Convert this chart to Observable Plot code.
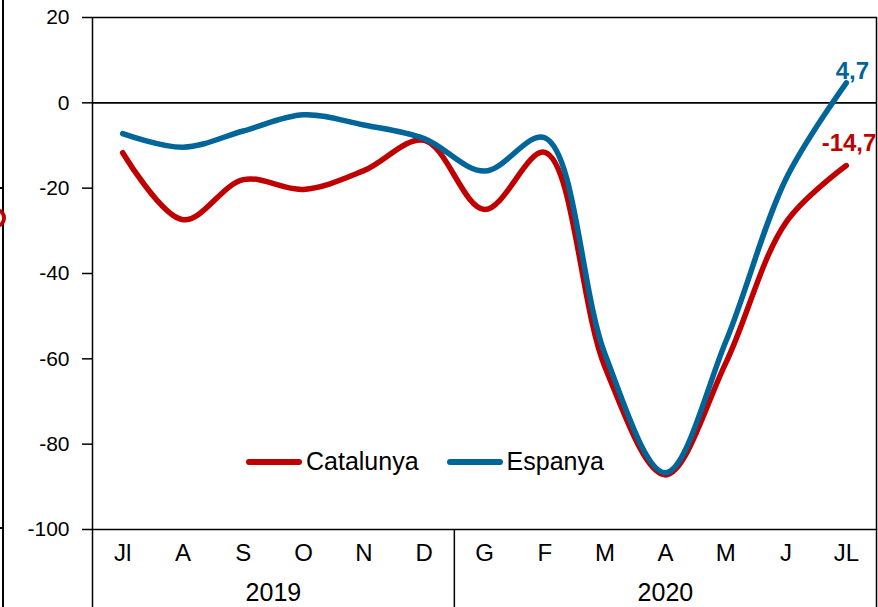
<!DOCTYPE html>
<html>
<head>
<meta charset="utf-8">
<script src="https://cdn.jsdelivr.net/npm/d3@7"></script>
<script src="https://cdn.jsdelivr.net/npm/@observablehq/plot@0.6"></script>
<style>
  html, body { margin: 0; padding: 0; background: #fff; }
  #wrap { position: relative; width: 878px; height: 607px; overflow: hidden; font-family: "Liberation Sans", Arial, sans-serif; }
  #legend { position: absolute; left: 246px; top: 447px; display: flex; align-items: center; font-size: 25px; color: #000; }
  .sw { display: inline-block; width: 56px; height: 6px; border-radius: 3px; margin-right: 4px; }
  .item { display: flex; align-items: center; margin-right: 28px; }
  #edge { position: absolute; left: 2px; top: 0; width: 1.5px; height: 607px; background: #000; }
  .etick { position: absolute; left: 0; width: 3px; height: 1.5px; background: #000; }
  #edot { position: absolute; left: -8px; top: 209px; width: 14px; height: 18px; border-radius: 50%; border: 4px solid #C00000; box-sizing: border-box; clip-path: inset(0 0 0 8px); }
</style>
</head>
<body>
<div id="wrap">
  <div id="chart"></div>
  <div id="edge"></div>
  <div class="etick" style="top:187px"></div>
  <div class="etick" style="top:527px"></div>
  <div id="edot"></div>
  <div id="legend">
    <span class="item"><span class="sw" style="background:#C00000"></span>Catalunya</span>
    <span class="item"><span class="sw" style="background:#006699"></span>Espanya</span>
  </div>
</div>
<script>
const months = ["Jl", "A", "S", "O", "N", "D", "G", "F", "M", "A", "M", "J", "JL"];
const years = ["2019", "2020"];
const catalunya = [-11.7, -27.4, -18, -20.3, -15.9, -8.8, -25, -11.6, -62, -87.2, -61, -28, -14.7];
const espanya = [-7.2, -10.4, -6.6, -2.8, -5.2, -8.4, -16, -8.2, -59, -86.7, -56, -17.8, 4.7];
const yTicks = [20, 0, -20, -40, -60, -80, -100];
const seriesNames = ["Catalunya", "Espanya"];
const seriesColors = ["#C00000", "#006699"];
const endLabels = ["-14,7", "4,7"];

const rows = [];
months.forEach((m, i) => {
  rows.push({i, v: catalunya[i], s: "Catalunya"});
  rows.push({i, v: espanya[i], s: "Espanya"});
});
const monthRows = months.map((m, i) => ({i, m}));
// year groups: 2019 -> indices 0..5, 2020 -> indices 6..12
const yearRows = [
  {x: (0 + 5) / 2, t: years[0]},
  {x: (6 + 12) / 2, t: years[1]}
];
const n = months.length;
const dividers = [-0.5, 5.5, n - 0.5];
const last = n - 1;
const endRows = [
  {i: last, v: catalunya[last], t: endLabels[0], s: "Catalunya"},
  {i: last, v: espanya[last], t: endLabels[1], s: "Espanya"}
];

const chart = Plot.plot({
  width: 878,
  height: 607,
  marginLeft: 92,
  marginRight: 2,
  marginTop: 17,
  marginBottom: 78,
  style: {fontFamily: "'Liberation Sans', Arial, sans-serif", background: "#fff", color: "#000", overflow: "visible"},
  x: {domain: [-0.5, n - 0.5], axis: null},
  y: {domain: [-100, 20], axis: null},
  color: {domain: seriesNames, range: seriesColors},
  marks: [
    Plot.ruleY([0], {stroke: "#000", strokeWidth: 1.6}),
    Plot.frame({stroke: "#000", strokeWidth: 1.5}),
    Plot.axisY({ticks: yTicks, tickSize: 10, tickPadding: 13, fontSize: 21, label: null, tickFormat: d => String(d), strokeWidth: 1.5}),
    Plot.ruleX(dividers, {y1: -100, y2: -125, stroke: "#000", strokeWidth: 1.5}),
    Plot.text(monthRows, {x: "i", y: -100, text: "m", dy: 24, fontSize: 24, fill: "#000"}),
    Plot.text(yearRows, {x: "x", y: -100, text: "t", dy: 63, fontSize: 25, fill: "#000"}),
    Plot.line(rows, {x: "i", y: "v", z: "s", stroke: "s", strokeWidth: 5.5, curve: "catmull-rom", strokeLinecap: "round", strokeLinejoin: "round"}),
    Plot.text(endRows.filter(d => d.s === "Espanya"), {x: "i", y: "v", text: "t", fill: "#006699", fontWeight: "bold", fontSize: 24, dx: 6, dy: -11}),
    Plot.text(endRows.filter(d => d.s === "Catalunya"), {x: "i", y: "v", text: "t", fill: "#C00000", fontWeight: "bold", fontSize: 24, textAnchor: "end", dx: 30, dy: -22})
  ]
});
document.getElementById("chart").appendChild(chart);
</script>
</body>
</html>
